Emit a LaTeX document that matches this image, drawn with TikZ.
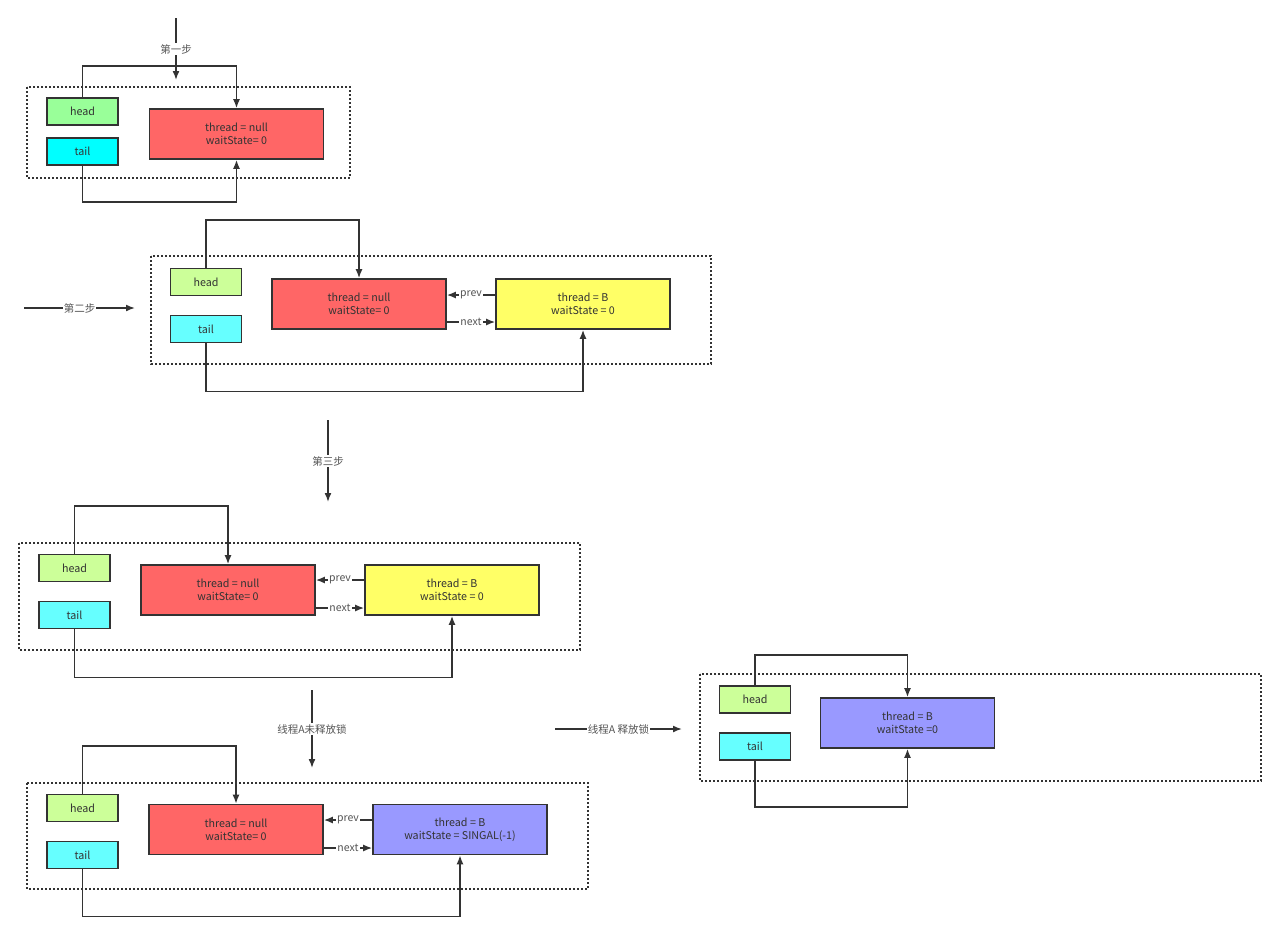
\documentclass[tikz,border=0pt]{standalone}
\usepackage{fontspec}
\setmainfont{Noto Sans CJK SC}
\usepackage{xcolor}
\usetikzlibrary{arrows.meta}

\definecolor{linegray}{HTML}{333333}
\definecolor{textgray}{HTML}{333333}
\definecolor{labelgray}{HTML}{555555}
\definecolor{headA}{HTML}{99FF99}
\definecolor{headB}{HTML}{CCFF99}
\definecolor{tailA}{HTML}{00FFFF}
\definecolor{tailB}{HTML}{66FFFF}
\definecolor{nullred}{HTML}{FF6666}
\definecolor{waityellow}{HTML}{FFFF66}
\definecolor{signalblue}{HTML}{9999FF}

\tikzset{
    box/.style={draw=linegray, line width=1.6pt, inner sep=0pt, align=center,
        text=textgray, font=\fontsize{10.7}{13}\selectfont},
    ptr/.style={box, minimum width=71pt, minimum height=27pt},
    qnode/.style={box, minimum width=174pt, minimum height=50pt},
    frame/.style={draw=linegray, line width=1.5pt, dash pattern=on 2pt off 2pt},
    arr/.style={draw=linegray, line width=1.6pt, -{Latex[length=9pt,width=7pt]}},
    lbl/.style={fill=white, inner sep=1pt, text=labelgray, font=\fontsize{10.5}{12}\selectfont},
}

\begin{document}
\begin{tikzpicture}[x=1pt, y=-1pt]
    \path[use as bounding box, fill=white] (0,0) rectangle (1280,935);

    % Step 1
    \coordinate (s1a) at (176,18);
    \coordinate (s1b) at (176,80);
    \draw[arr] (s1a) -- node[lbl] {第一步} (s1b);
    \draw[frame] (27,87) rectangle (350,178);
    \node[ptr, fill=headA] (h1) at (82.5,111.5) {head};
    \node[ptr, fill=tailA] (t1) at (82.5,151.5) {tail};
    \node[qnode, fill=nullred] (r1) at (236.5,134) {thread = null\\waitState= 0};
    \draw[arr] (h1.north) -- ++(0,-31) -| (r1.north);
    \draw[arr] (t1.south) -- ++(0,36) -| (r1.south);

    % Step 2
    \coordinate (s2a) at (24,308);
    \coordinate (s2b) at (135,308);
    \draw[arr] (s2a) -- node[lbl] {第二步} (s2b);
    \draw[frame] (151,256) rectangle (711,364);
    \node[ptr, fill=headB] (h2) at (206,282) {head};
    \node[ptr, fill=tailB] (t2) at (206,329) {tail};
    \node[qnode, fill=nullred] (r2) at (359,304) {thread = null\\waitState= 0};
    \node[qnode, fill=waityellow] (b2) at (583,304) {thread = B\\waitState = 0};
    \draw[arr] (h2.north) -- ++(0,-48) -| (r2.north);
    \draw[arr] (t2.south) -- ++(0,48) -| (b2.south);
    \draw[arr] ([yshift=9pt]b2.west) -- node[lbl] {prev} ([yshift=9pt]r2.east);
    \draw[arr] ([yshift=-18pt]r2.east) -- node[lbl] {next} ([yshift=-18pt]b2.west);

    % Step 3
    \coordinate (s3a) at (328,420);
    \coordinate (s3b) at (328,502);
    \draw[arr] (s3a) -- node[lbl] {第三步} (s3b);
    \draw[frame] (19,543) rectangle (580,650);
    \node[ptr, fill=headB] (h3) at (74.5,568) {head};
    \node[ptr, fill=tailB] (t3) at (74.5,615) {tail};
    \node[qnode, fill=nullred] (r3) at (228,590) {thread = null\\waitState= 0};
    \node[qnode, fill=waityellow] (b3) at (452,590) {thread = B\\waitState = 0};
    \draw[arr] (h3.north) -- ++(0,-48) -| (r3.north);
    \draw[arr] (t3.south) -- ++(0,48) -| (b3.south);
    \draw[arr] ([yshift=10pt]b3.west) -- node[lbl] {prev} ([yshift=10pt]r3.east);
    \draw[arr] ([yshift=-18pt]r3.east) -- node[lbl] {next} ([yshift=-18pt]b3.west);

    % Thread A keeps the lock
    \coordinate (s4a) at (312,690);
    \coordinate (s4b) at (312,768);
    \draw[arr] (s4a) -- node[lbl] {线程A未释放锁} (s4b);
    \draw[frame] (27,783) rectangle (588,889);
    \node[ptr, fill=headB] (h4) at (82.5,808) {head};
    \node[ptr, fill=tailB] (t4) at (82.5,855) {tail};
    \node[qnode, fill=nullred] (r4) at (236,829.5) {thread = null\\waitState= 0};
    \node[qnode, fill=signalblue] (b4) at (460,829.5) {thread = B\\waitState = SINGAL(-1)};
    \draw[arr] (h4.north) -- ++(0,-48) -| (r4.north);
    \draw[arr] (t4.south) -- ++(0,47) -| (b4.south);
    \draw[arr] ([yshift=9.5pt]b4.west) -- node[lbl] {prev} ([yshift=9.5pt]r4.east);
    \draw[arr] ([yshift=-18.5pt]r4.east) -- node[lbl] {next} ([yshift=-18.5pt]b4.west);

    % Thread A releases the lock
    \coordinate (s5a) at (555,729);
    \coordinate (s5b) at (682,729);
    \draw[arr] (s5a) -- node[lbl] {线程A 释放锁} (s5b);
    \draw[frame] (700,674) rectangle (1261,781);
    \node[ptr, fill=headB] (h5) at (755,699.5) {head};
    \node[ptr, fill=tailB] (t5) at (755,746.5) {tail};
    \node[qnode, fill=signalblue] (b5) at (907.5,723) {thread = B\\waitState =0};
    \draw[arr] (h5.north) -- ++(0,-30) -| (b5.north);
    \draw[arr] (t5.south) -- ++(0,46) -| (b5.south);
\end{tikzpicture}
\end{document}
